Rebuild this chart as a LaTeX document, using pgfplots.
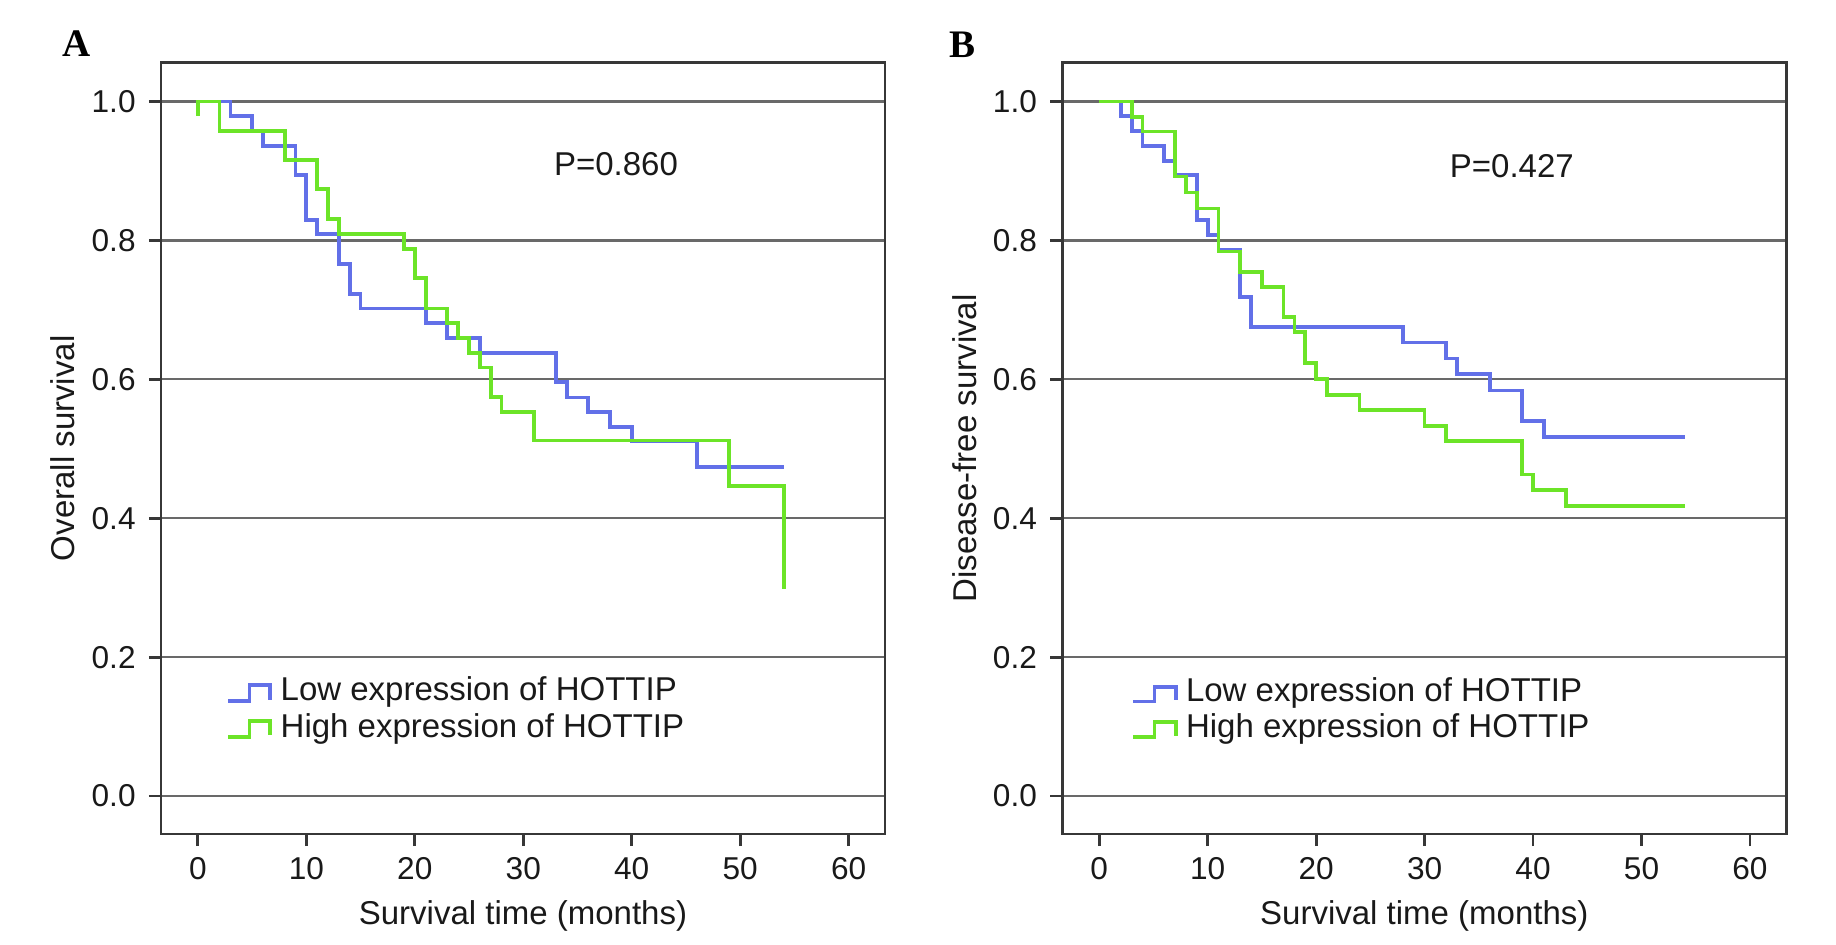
\documentclass[border=0pt]{standalone}
\usepackage{pgfplots}
\pgfplotsset{compat=1.18}
\usepackage{fontspec}
\setmainfont{Liberation Sans}
\newfontfamily\panelfont{Liberation Serif}
\definecolor{kmblue}{RGB}{98,112,232}
\definecolor{kmgreen}{RGB}{108,228,40}
\definecolor{frame}{RGB}{55,55,55}
\definecolor{gridc}{RGB}{105,105,105}
\pgfplotsset{
  km/.style={
    scale only axis, width=362pt, height=385.65pt,
    xmin=-3.4, xmax=63.35, ymin=-0.0547, ymax=1.056,
    xtick={0,10,20,30,40,50,60},
    ytick={0,0.2,0.4,0.6,0.8,1},
    /pgf/number format/assume math mode=true,
    yticklabel style={/pgf/number format/fixed, /pgf/number format/fixed zerofill, /pgf/number format/precision=1},
    tick pos=left, tick align=outside, major tick length=6pt,
    axis line style={draw=frame, line width=1.4pt},
    major tick style={draw=frame, line width=1.4pt},
    ymajorgrids, major grid style={draw=gridc, line width=1.1pt},
    tick label style={font=\fontsize{15.8}{18}\selectfont, text=black!90},
    yticklabel style={inner sep=0pt, xshift=-6.5pt},
    xticklabel style={inner sep=0pt, yshift=-5.5pt},
    label style={font=\fontsize{16.5}{19}\selectfont, text=black!90},
    xlabel style={at={(axis description cs:0.5,-0.1167)}, anchor=base},
    ylabel style={at={(axis description cs:-0.1188,0.5)}, anchor=base},
    xlabel={Survival time (months)},
    every axis plot/.append style={line width=1.9pt, mark=none},
  }
}
\begin{document}
\begin{tikzpicture}
\path[use as bounding box] (0,0) rectangle (918pt,-472pt);
\node[anchor=base west, font=\panelfont\bfseries\fontsize{19.5}{22}\selectfont] at (27.5pt,-28.35pt) {A};
\node[anchor=base west, font=\panelfont\bfseries\fontsize{19.5}{22}\selectfont] at (471pt,-28.6pt) {B};
% Panel A
\begin{axis}[km, at={(80.5pt,-417pt)}, anchor=south west, ylabel={Overall survival}]
\addplot[kmblue, const plot] coordinates {
(0,1)(3,0.979)(5,0.957)(6,0.936)(9,0.894)(10,0.830)(11,0.809)(13,0.766)(14,0.723)(15,0.702)
(21,0.681)(23,0.660)(26,0.638)(33,0.596)(34,0.574)(36,0.553)(38,0.531)(40,0.511)(46,0.474)(54,0.474)};
\addplot[kmgreen, const plot] coordinates {
(0,0.979)(0,1)(2,0.958)(8,0.916)(11,0.874)(12,0.831)(13,0.809)(19,0.788)(20,0.746)(21,0.702)
(23,0.681)(24,0.660)(25,0.638)(26,0.617)(27,0.575)(28,0.553)(31,0.512)(49,0.447)(54,0.298)};
\addplot[kmblue] coordinates {(2.81,0.137)(4.75,0.137)(4.75,0.160)(6.68,0.160)(6.68,0.139)};
\addplot[kmgreen] coordinates {(2.81,0.085)(4.75,0.085)(4.75,0.108)(6.68,0.108)(6.68,0.088)};
\node[anchor=base west, font=\fontsize{16.5}{19}\selectfont, text=black!90, inner sep=0pt] at (axis cs:7.6,0.138) {Low expression of HOTTIP};
\node[anchor=base west, font=\fontsize{16.5}{19}\selectfont, text=black!90, inner sep=0pt] at (axis cs:7.6,0.085) {High expression of HOTTIP};
\node[anchor=base west, font=\fontsize{16.5}{19}\selectfont, text=black!90, inner sep=0pt] at (axis cs:32.8,0.893) {P=0.860};
\end{axis}
% Panel B
\begin{axis}[km, at={(531.15pt,-417pt)}, anchor=south west, ylabel={Disease-free survival}]
\addplot[kmblue, const plot] coordinates {
(0,1)(2,0.979)(3,0.958)(4,0.936)(6,0.914)(7,0.894)(9,0.830)(10,0.808)(11,0.786)(13,0.719)(14,0.675)
(28,0.653)(32,0.630)(33,0.608)(36,0.584)(39,0.540)(41,0.517)(54,0.517)};
\addplot[kmgreen, const plot] coordinates {
(0,1)(3,0.978)(4,0.957)(7,0.892)(8,0.869)(9,0.846)(11,0.784)(13,0.755)(15,0.733)(17,0.690)(18,0.668)
(19,0.623)(20,0.600)(21,0.578)(24,0.556)(30,0.533)(32,0.511)(39,0.463)(40,0.441)(43,0.418)(54,0.418)};
\addplot[kmblue] coordinates {(3.12,0.136)(5.09,0.136)(5.09,0.157)(7.05,0.157)(7.05,0.138)};
\addplot[kmgreen] coordinates {(3.12,0.0845)(5.09,0.0845)(5.09,0.107)(7.05,0.107)(7.05,0.087)};
\node[anchor=base west, font=\fontsize{16.5}{19}\selectfont, text=black!90, inner sep=0pt] at (axis cs:7.97,0.136) {Low expression of HOTTIP};
\node[anchor=base west, font=\fontsize{16.5}{19}\selectfont, text=black!90, inner sep=0pt] at (axis cs:7.97,0.084) {High expression of HOTTIP};
\node[anchor=base west, font=\fontsize{16.5}{19}\selectfont, text=black!90, inner sep=0pt] at (axis cs:32.3,0.890) {P=0.427};
\end{axis}
\end{tikzpicture}
\end{document}
